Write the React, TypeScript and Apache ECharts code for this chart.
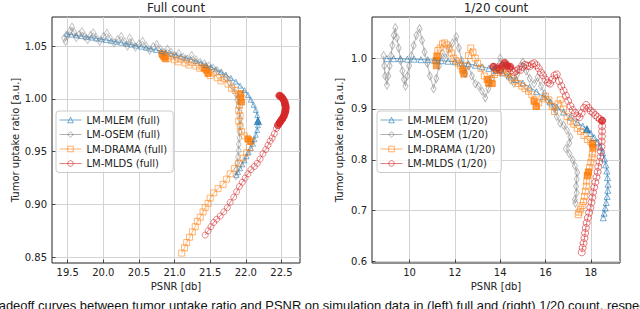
import React, { useEffect, useRef } from "react";
import * as echarts from "echarts";

// ---------- Tick labels ----------
const xTicksFull = [19.5, 20.0, 20.5, 21.0, 21.5, 22.0, 22.5];
const yTicksFull = [0.85, 0.9, 0.95, 1.0, 1.05];
const xTicks20 = [10, 12, 14, 16, 18];
const yTicks20 = [0.6, 0.7, 0.8, 0.9, 1.0];

// ---------- Full count ----------
const mlemFull: number[][] = [
  [19.48, 1.0615], [19.55, 1.0608], [19.62, 1.0601], [19.69, 1.0594], [19.76, 1.0587], [19.83, 1.058],
  [19.9, 1.0572], [19.97, 1.0565], [20.04, 1.0557], [20.11, 1.0549], [20.18, 1.0541], [20.25, 1.0532],
  [20.32, 1.0523], [20.39, 1.0514], [20.46, 1.0504], [20.53, 1.0494], [20.6, 1.0484], [20.67, 1.0474],
  [20.74, 1.0463], [20.81, 1.0452], [20.88, 1.044], [20.95, 1.0428], [21.02, 1.0415], [21.09, 1.0402],
  [21.16, 1.0388], [21.23, 1.0373], [21.3, 1.0357], [21.37, 1.034], [21.44, 1.0322], [21.51, 1.0302],
  [21.58, 1.028], [21.65, 1.0256], [21.72, 1.0229], [21.79, 1.0198], [21.86, 1.0163], [21.92, 1.0125],
  [21.98, 1.0083], [22.03, 1.0038], [22.07, 0.9992], [22.11, 0.9944], [22.14, 0.9895], [22.16, 0.9846],
  [22.17, 0.9797], [22.17, 0.975], [22.16, 0.9704], [22.14, 0.966], [22.12, 0.9617], [22.1, 0.9575],
  [22.07, 0.9534], [22.04, 0.9495], [22.01, 0.9456], [21.98, 0.9418], [21.95, 0.938], [21.92, 0.9343],
  [21.89, 0.9306], [21.87, 0.928],
];
const mlemFullMarked: number[][] = [[22.17, 0.979]];

const osemFull: number[][] = [
  [19.45, 1.0575], [19.47, 1.0545], [19.5, 1.06], [19.53, 1.064], [19.56, 1.068], [19.59, 1.063],
  [19.62, 1.058], [19.66, 1.061], [19.7, 1.0635], [19.74, 1.059], [19.78, 1.056], [19.82, 1.06],
  [19.86, 1.0625], [19.9, 1.058], [19.95, 1.0545], [20.0, 1.059], [20.05, 1.062], [20.1, 1.057],
  [20.15, 1.053], [20.2, 1.056], [20.25, 1.059], [20.3, 1.054], [20.34, 1.05], [20.37, 1.0575],
  [20.41, 1.053], [20.45, 1.049], [20.5, 1.052], [20.55, 1.0545], [20.6, 1.05], [20.65, 1.046],
  [20.7, 1.0495], [20.75, 1.0515], [20.8, 1.047], [20.85, 1.044], [20.9, 1.047], [20.95, 1.044],
  [21.0, 1.041], [21.06, 1.043], [21.12, 1.0395], [21.18, 1.0375], [21.24, 1.041], [21.3, 1.037],
  [21.36, 1.0345], [21.42, 1.033], [21.48, 1.031], [21.54, 1.029], [21.6, 1.0265], [21.66, 1.024],
  [21.72, 1.0205], [21.77, 1.016], [21.82, 1.011], [21.86, 1.005], [21.88, 0.999], [21.9, 0.993],
  [21.91, 0.987], [21.92, 0.981], [21.92, 0.975], [21.91, 0.969], [21.91, 0.963], [21.9, 0.957],
  [21.9, 0.951], [21.89, 0.945], [21.88, 0.939], [21.87, 0.933], [21.86, 0.927],
];

const dramaFull: number[][] = [
  [20.82, 1.043], [20.84, 1.041], [20.86, 1.0395], [20.9, 1.038], [20.95, 1.0405], [21.0, 1.037],
  [21.05, 1.035], [21.1, 1.0375], [21.15, 1.034], [21.2, 1.032], [21.25, 1.0345], [21.3, 1.031],
  [21.35, 1.029], [21.4, 1.03], [21.44, 1.028], [21.47, 1.025], [21.5, 1.022], [21.55, 1.0245],
  [21.6, 1.02], [21.65, 1.017], [21.7, 1.019], [21.75, 1.014], [21.8, 1.01], [21.85, 1.008],
  [21.9, 1.004], [21.92, 0.999], [21.91, 0.994], [21.9, 0.989], [21.92, 0.984], [21.9, 0.979],
  [21.92, 0.974], [21.94, 0.969], [21.98, 0.965], [22.03, 0.962], [22.07, 0.96], [22.05, 0.954],
  [22.01, 0.949], [21.96, 0.944], [21.9, 0.939], [21.84, 0.934], [21.78, 0.929], [21.73, 0.924],
  [21.68, 0.919], [21.61, 0.915], [21.55, 0.911], [21.5, 0.906], [21.47, 0.901], [21.43, 0.897],
  [21.4, 0.893], [21.36, 0.888], [21.32, 0.884], [21.29, 0.879], [21.25, 0.874], [21.21, 0.869],
  [21.17, 0.864], [21.14, 0.859], [21.1, 0.854],
];
const dramaFullMarked: number[][] = [
  [20.83, 1.042], [20.85, 1.04], [20.87, 1.038], [21.42, 1.029], [21.45, 1.027], [21.47, 1.024],
  [21.93, 1.005], [21.93, 1.001], [21.94, 0.997], [22.03, 0.962], [22.07, 0.96],
];

const mldsFull: number[][] = [
  [22.47, 1.003], [22.52, 1.0], [22.55, 0.994], [22.56, 0.988], [22.52, 0.982], [22.47, 0.977],
  [22.43, 0.972], [22.4, 0.967], [22.37, 0.963], [22.34, 0.96], [22.31, 0.956], [22.28, 0.952],
  [22.24, 0.948], [22.2, 0.943], [22.16, 0.939], [22.12, 0.936], [22.07, 0.933], [22.03, 0.929],
  [21.99, 0.925], [21.95, 0.921], [21.91, 0.917], [21.87, 0.912], [21.83, 0.907], [21.78, 0.902],
  [21.74, 0.897], [21.69, 0.893], [21.64, 0.889], [21.59, 0.886], [21.55, 0.883], [21.51, 0.879],
  [21.47, 0.875], [21.43, 0.871],
];
const mldsFullMarked: number[][] = [
  [22.47, 1.003], [22.49, 1.0025], [22.51, 1.001], [22.53, 0.999], [22.545, 0.997], [22.55, 0.995],
  [22.56, 0.993], [22.56, 0.991], [22.555, 0.989], [22.55, 0.987], [22.54, 0.985], [22.53, 0.983],
  [22.51, 0.981], [22.5, 0.98], [22.48, 0.978], [22.47, 0.977], [22.45, 0.975],
];

// ---------- 1/20 count ----------
const mlem20: number[][] = [
  [9.0, 0.999], [9.3, 0.999], [9.6, 0.999], [9.9, 0.998], [10.2, 0.998], [10.5, 0.997], [10.8, 0.997],
  [11.1, 0.996], [11.4, 0.995], [11.7, 0.994], [12.0, 0.993], [12.3, 0.991], [12.6, 0.989], [12.9, 0.986],
  [13.2, 0.983], [13.5, 0.98], [13.8, 0.976], [14.1, 0.971], [14.4, 0.965], [14.7, 0.958], [15.0, 0.951],
  [15.3, 0.943], [15.6, 0.934], [15.9, 0.924], [16.2, 0.914], [16.5, 0.904], [16.8, 0.894], [17.1, 0.884],
  [17.4, 0.874], [17.65, 0.866], [17.83, 0.86], [18.0, 0.852], [18.15, 0.844], [18.3, 0.835], [18.42, 0.825],
  [18.52, 0.814], [18.6, 0.802], [18.66, 0.79], [18.71, 0.778], [18.74, 0.765], [18.76, 0.752], [18.75, 0.74],
  [18.72, 0.728], [18.68, 0.716], [18.64, 0.705], [18.59, 0.695], [18.55, 0.686],
];
const mlem20Marked: number[][] = [[17.83, 0.86]];

const osem20: number[][] = [
  [8.85, 1.005], [8.88, 0.985], [8.92, 0.965], [9.0, 0.947], [9.06, 0.965], [9.12, 0.985], [9.18, 1.005],
  [9.24, 1.025], [9.3, 1.045], [9.37, 1.06], [9.44, 1.04], [9.52, 1.02], [9.6, 0.995], [9.68, 0.975],
  [9.75, 0.958], [9.82, 0.945], [9.9, 0.965], [9.98, 0.985], [10.08, 1.005], [10.18, 1.025], [10.3, 1.045],
  [10.44, 1.058], [10.55, 1.035], [10.66, 1.012], [10.78, 0.99], [10.9, 0.965], [11.06, 0.94], [11.18, 0.96],
  [11.3, 0.985], [11.45, 1.01], [11.6, 1.0], [11.75, 1.02], [11.9, 1.03], [12.06, 1.042], [12.18, 1.02],
  [12.3, 0.995], [12.45, 0.97], [12.6, 0.985], [12.75, 0.965], [12.9, 0.95], [13.05, 0.945], [13.2, 0.935],
  [13.34, 0.922], [13.48, 0.94], [13.62, 0.96], [13.78, 0.98], [14.0, 1.0], [14.15, 0.985], [14.3, 0.97],
  [14.45, 0.958], [14.6, 0.951], [14.75, 0.968], [14.9, 0.985], [15.0, 0.992], [15.15, 0.975], [15.3, 0.96],
  [15.5, 0.95], [15.65, 0.962], [15.8, 0.945], [15.95, 0.93], [16.1, 0.918], [16.25, 0.91], [16.4, 0.9],
  [16.5, 0.885], [16.65, 0.872], [16.8, 0.868], [16.95, 0.858], [17.1, 0.845], [17.05, 0.833], [16.9, 0.822],
  [17.05, 0.812], [17.2, 0.8], [17.3, 0.788], [17.4, 0.775], [17.38, 0.762], [17.35, 0.748], [17.38, 0.735],
  [17.3, 0.722], [17.32, 0.715],
];

const drama20: number[][] = [
  [11.15, 0.995], [11.2, 1.005], [11.25, 1.015], [11.35, 1.02], [11.45, 1.028], [11.55, 1.03], [11.65, 1.026],
  [11.75, 1.018], [11.85, 1.01], [11.95, 1.0], [12.05, 0.995], [12.15, 0.99], [12.25, 0.985], [12.35, 0.975],
  [12.4, 0.968], [12.5, 0.985], [12.6, 1.005], [12.7, 1.02], [12.8, 1.012], [12.9, 1.0], [13.0, 0.99],
  [13.15, 0.98], [13.3, 0.965], [13.42, 0.958], [13.5, 0.95], [13.62, 0.96], [13.75, 0.968], [13.9, 0.972],
  [14.05, 0.975], [14.2, 0.972], [14.35, 0.968], [14.5, 0.962], [14.65, 0.955], [14.8, 0.95], [14.95, 0.945],
  [15.1, 0.94], [15.25, 0.935], [15.4, 0.928], [15.5, 0.918], [15.58, 0.905], [15.7, 0.912], [15.85, 0.92],
  [16.0, 0.925], [16.15, 0.918], [16.3, 0.905], [16.4, 0.895], [16.55, 0.91], [16.65, 0.918], [16.8, 0.9],
  [16.95, 0.885], [17.1, 0.876], [17.25, 0.87], [17.4, 0.862], [17.55, 0.856], [17.7, 0.848], [17.85, 0.84],
  [18.0, 0.835], [18.08, 0.83], [18.1, 0.822], [18.07, 0.812], [18.05, 0.804], [18.0, 0.795], [17.95, 0.785],
  [17.9, 0.776], [17.85, 0.768], [17.82, 0.758], [17.8, 0.748], [17.76, 0.738], [17.72, 0.728], [17.68, 0.718],
  [17.62, 0.71], [17.55, 0.703], [17.48, 0.697], [17.45, 0.692],
];
const drama20Marked: number[][] = [
  [11.18, 0.985], [11.2, 0.995], [11.22, 1.003], [12.35, 0.978], [12.4, 0.97], [13.45, 0.958], [13.5, 0.951],
  [13.65, 0.95], [15.5, 0.915], [15.6, 0.905], [18.08, 0.832], [18.1, 0.825], [17.9, 0.776], [17.85, 0.77],
];

const mlds20: number[][] = [
  [13.7, 0.983], [13.8, 0.978], [13.9, 0.982], [14.0, 0.976], [14.1, 0.985], [14.2, 0.991], [14.3, 0.986],
  [14.4, 0.98], [14.5, 0.976], [14.6, 0.972], [14.7, 0.975], [14.8, 0.978], [14.9, 0.977], [15.0, 0.983],
  [15.1, 0.987], [15.2, 0.985], [15.3, 0.984], [15.4, 0.988], [15.5, 0.99], [15.6, 0.986], [15.7, 0.98],
  [15.8, 0.972], [15.9, 0.966], [16.0, 0.958], [16.1, 0.952], [16.2, 0.95], [16.3, 0.958], [16.4, 0.966],
  [16.5, 0.968], [16.6, 0.955], [16.7, 0.945], [16.8, 0.936], [16.9, 0.926], [17.0, 0.916], [17.1, 0.906],
  [17.2, 0.898], [17.3, 0.892], [17.4, 0.886], [17.5, 0.884], [17.6, 0.892], [17.7, 0.902], [17.8, 0.908],
  [17.9, 0.902], [18.0, 0.896], [18.1, 0.893], [18.2, 0.888], [18.3, 0.884], [18.4, 0.88], [18.5, 0.877],
  [18.5, 0.866], [18.5, 0.856], [18.49, 0.846], [18.48, 0.836], [18.47, 0.826], [18.45, 0.816], [18.43, 0.806],
  [18.38, 0.796], [18.33, 0.786], [18.3, 0.776], [18.25, 0.766], [18.2, 0.756], [18.15, 0.746], [18.1, 0.736],
  [18.07, 0.726], [18.03, 0.716], [17.98, 0.706], [17.93, 0.696], [17.87, 0.686], [17.82, 0.676], [17.78, 0.666],
  [17.75, 0.656], [17.72, 0.646], [17.68, 0.636], [17.64, 0.627], [17.6, 0.618],
];
const mlds20Marked: number[][] = [
  [13.7, 0.983], [13.85, 0.98], [14.0, 0.978], [14.1, 0.985], [14.2, 0.99], [14.3, 0.985], [14.45, 0.983],
  [18.5, 0.877],
];

// ---------- Styling ----------
const BLUE = "#1f77b4";
const GRAY = "#7f7f7f";
const ORANGE = "#ff7f0e";
const RED = "#d62728";
const FONT = "DejaVu Sans";

function rgba(hex: string, a: number) {
  const n = parseInt(hex.slice(1), 16);
  return `rgba(${(n >> 16) & 255},${(n >> 8) & 255},${n & 255},${a})`;
}

function openSeries(name: string, data: number[][], color: string, symbol: string, size: any, idx: number, alpha: number) {
  return {
    type: "line",
    name,
    data,
    xAxisIndex: idx,
    yAxisIndex: idx,
    symbol,
    symbolSize: size,
    showSymbol: true,
    showAllSymbol: true,
    clip: true,
    silent: true,
    lineStyle: { color: rgba(color, alpha), width: 1 },
    itemStyle: { color: "rgba(255,255,255,0)", borderColor: rgba(color, alpha), borderWidth: 1 },
    emphasis: { disabled: true },
  };
}

function filledSeries(data: number[][], color: string, symbol: string, size: any, idx: number) {
  return {
    type: "scatter",
    data,
    xAxisIndex: idx,
    yAxisIndex: idx,
    symbol,
    symbolSize: size,
    clip: true,
    silent: true,
    itemStyle: { color: rgba(color, 0.9), borderColor: rgba(color, 0.9), borderWidth: 1 },
    emphasis: { disabled: true },
  };
}

function xAxis(idx: number, min: number, max: number, ticks: number[], digits: number) {
  return {
    gridIndex: idx,
    type: "value",
    min,
    max,
    axisLine: { show: false },
    axisTick: { show: true, inside: true, length: 3.5, customValues: ticks, lineStyle: { color: "#222", width: 0.8 } },
    axisLabel: {
      customValues: ticks,
      formatter: (v: number) => v.toFixed(digits),
      fontSize: 10,
      fontFamily: FONT,
      color: "#222",
      margin: 4,
    },
    splitLine: { show: true, lineStyle: { color: "#d3d3d3", width: 1 } },
    name: "PSNR [db]",
    nameLocation: "middle",
    nameGap: 17,
    nameTextStyle: { fontSize: 10, fontFamily: FONT, color: "#222" },
  };
}

function yAxis(idx: number, min: number, max: number, ticks: number[], digits: number) {
  return {
    gridIndex: idx,
    type: "value",
    min,
    max,
    axisLine: { show: false },
    axisTick: { show: true, inside: true, length: 3.5, customValues: ticks, lineStyle: { color: "#222", width: 0.8 } },
    axisLabel: {
      customValues: ticks,
      formatter: (v: number) => v.toFixed(digits),
      fontSize: 10,
      fontFamily: FONT,
      color: "#222",
      margin: 5,
    },
    splitLine: { show: true, lineStyle: { color: "#d3d3d3", width: 1 } },
    name: "Tumor uptake ratio [a.u.]",
    nameLocation: "middle",
    nameGap: 28,
    nameRotate: 90,
    nameTextStyle: { fontSize: 10, fontFamily: FONT, color: "#222" },
  };
}

const legendColors = [BLUE, GRAY, ORANGE, RED];

function legend(left: number, names: string[]) {
  return {
    data: names.map((name, i) => ({
      name,
      itemStyle: { color: "rgba(255,255,255,0)", borderColor: rgba(legendColors[i], 0.6), borderWidth: 1 },
      lineStyle: { color: rgba(legendColors[i], 0.6), width: 1 },
    })),
    left,
    top: 111,
    orient: "vertical",
    selectedMode: false,
    backgroundColor: "rgba(255,255,255,0.8)",
    borderColor: "#cccccc",
    borderWidth: 1,
    borderRadius: 3,
    padding: [3, 6, 3, 3],
    itemWidth: 22,
    itemHeight: 7,
    itemGap: 2.5,
    textStyle: { fontSize: 10, fontFamily: FONT, color: "#222", lineHeight: 12 },
  };
}

const namesFull = ["LM-MLEM (full)", "LM-OSEM (full)", "LM-DRAMA (full)", "LM-MLDS (full)"];
const names20 = ["LM-MLEM (1/20)", "LM-OSEM (1/20)", "LM-DRAMA (1/20)", "LM-MLDS (1/20)"];

const option: any = {
  animation: false,
  backgroundColor: "#ffffff",
  grid: [
    { left: 52, top: 17, width: 248, height: 246, show: true, borderColor: "#222", borderWidth: 1, backgroundColor: "transparent" },
    { left: 372, top: 17, width: 248, height: 246, show: true, borderColor: "#222", borderWidth: 1, backgroundColor: "transparent" },
  ],
  xAxis: [xAxis(0, 19.28, 22.76, xTicksFull, 1), xAxis(1, 8.34, 19.29, xTicks20, 0)],
  yAxis: [yAxis(0, 0.8446, 1.0775, yTicksFull, 2), yAxis(1, 0.597, 1.081, yTicks20, 1)],
  legend: [legend(56, namesFull), legend(377, names20)],
  series: [
    openSeries(namesFull[0], mlemFull, BLUE, "triangle", 5, 0, 0.55),
    filledSeries(mlemFullMarked, BLUE, "triangle", 7, 0),
    openSeries(namesFull[1], osemFull, GRAY, "diamond", [5, 8], 0, 0.45),
    openSeries(namesFull[2], dramaFull, ORANGE, "rect", 6, 0, 0.55),
    filledSeries(dramaFullMarked, ORANGE, "rect", 6, 0),
    openSeries(namesFull[3], mldsFull, RED, "circle", 6, 0, 0.55),
    filledSeries(mldsFullMarked, RED, "circle", 7, 0),

    openSeries(names20[0], mlem20, BLUE, "triangle", 6, 1, 0.6),
    filledSeries(mlem20Marked, BLUE, "triangle", 7, 1),
    openSeries(names20[1], osem20, GRAY, "diamond", [5, 8], 1, 0.55),
    openSeries(names20[2], drama20, ORANGE, "rect", 6, 1, 0.6),
    filledSeries(drama20Marked, ORANGE, "rect", 6, 1),
    openSeries(names20[3], mlds20, RED, "circle", 7, 1, 0.6),
    filledSeries(mlds20Marked, RED, "circle", 7, 1),
  ],
  graphic: [
    { type: "text", x: 176, y: 8, style: { text: "Full count", font: `12px "${FONT}"`, fill: "#222", textAlign: "center", textVerticalAlign: "middle" } },
    { type: "text", x: 496, y: 8, style: { text: "1/20 count", font: `12px "${FONT}"`, fill: "#222", textAlign: "center", textVerticalAlign: "middle" } },
    {
      type: "text",
      x: -13,
      y: 299,
      style: {
        text: "Tradeoff curves between tumor uptake ratio and PSNR on simulation data in (left) full and (right) 1/20 count, respectively.",
        font: '12.95px "Liberation Sans"',
        fill: "#111",
        textAlign: "left",
        textVerticalAlign: "top",
      },
    },
  ],
};

export default function App() {
  const ref = useRef<HTMLDivElement>(null);
  useEffect(() => {
    const chart = echarts.init(ref.current as HTMLDivElement, null, { renderer: "svg" });
    chart.setOption(option);
    return () => chart.dispose();
  }, []);
  return <div ref={ref} style={{ position: "absolute", left: 0, top: 0, width: 640, height: 309 }} />;
}
